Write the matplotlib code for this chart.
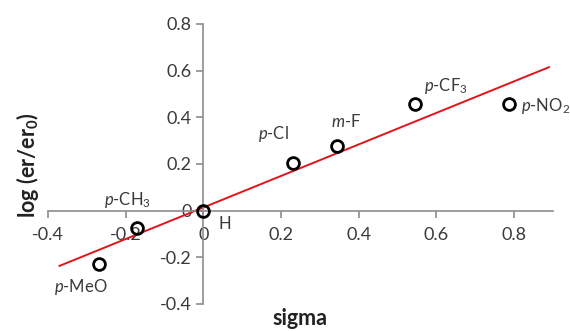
"""
Hammett plot: log(er/er0) vs sigma for substituted aryl groups.
"""

import numpy as np
import matplotlib
matplotlib.use("Agg")
import matplotlib.pyplot as plt

# substituent labels (mathtext for italics / subscripts)
labels = [r"$\it{p}$-MeO", r"$\it{p}$-CH$_3$", "H", r"$\it{p}$-Cl",
          r"$\it{m}$-F", r"$\it{p}$-CF$_3$", r"$\it{p}$-NO$_2$"]
sigma = [-0.268, -0.17, 0.0, 0.232, 0.345, 0.545, 0.787]
log_er = [-0.23, -0.075, 0.0, 0.205, 0.278, 0.455, 0.455]

# label offsets in pixels relative to the point
label_offsets = [(-18, -23), (-10, 28), (22, -13), (-20, 29),
                 (9, 24), (31, 18), (12, -2)]
label_ha = ["center", "center", "center", "center", "center", "center", "left"]

# trendline extent
trend_x = [-0.37, 0.89]

x_ticks = [-0.4, -0.2, 0, 0.2, 0.4, 0.6, 0.8]
y_ticks = [-0.4, -0.2, 0, 0.2, 0.4, 0.6, 0.8]

FONT = "Lato"
plt.rcParams["font.family"] = [FONT, "DejaVu Sans"]
plt.rcParams["mathtext.fontset"] = "custom"
plt.rcParams["mathtext.rm"] = FONT
plt.rcParams["mathtext.it"] = f"{FONT}:italic"
plt.rcParams["mathtext.bf"] = f"{FONT}:bold"

AXIS_GRAY = "#8c8c8c"
TEXT_GRAY = "#3a3a3a"

fig = plt.figure(figsize=(5.7, 3.31), dpi=100)
ax = fig.add_axes([0.084, 0.0816, 0.886, 0.846])

# linear fit
slope, intercept = np.polyfit(sigma, log_er, 1)
tx = np.array(trend_x)
ax.plot(tx, slope * tx + intercept, color="#e0151b", lw=1.4, zorder=2)

ax.plot(sigma, log_er, "o", ms=8.5, mfc="none", mec="black", mew=2.0, zorder=3)

for x, y, lab, off, ha in zip(sigma, log_er, labels, label_offsets, label_ha):
    ax.annotate(lab, (x, y), xytext=off, textcoords="offset pixels",
                ha=ha, va="center", fontsize=12, color=TEXT_GRAY)

ax.set_xlim(-0.4, 0.9)
ax.set_ylim(-0.4, 0.8)
ax.set_xticks(x_ticks)
ax.set_yticks(y_ticks)
ax.set_xticklabels([f"{v:g}" for v in x_ticks])
ax.set_yticklabels([f"{v:g}" for v in y_ticks])

ax.spines["left"].set_position(("data", 0))
ax.spines["bottom"].set_position(("data", 0))
for s in ["top", "right"]:
    ax.spines[s].set_visible(False)
for s in ["left", "bottom"]:
    ax.spines[s].set_color(AXIS_GRAY)
    ax.spines[s].set_linewidth(1.2)

ax.tick_params(axis="both", direction="out", length=5, width=1.2,
               color=AXIS_GRAY, labelsize=13, labelcolor=TEXT_GRAY)
ax.tick_params(axis="x", pad=7)

fig.text(0.049, 0.5, r"log (er/er$_\mathbf{0}$)", rotation=90, ha="center",
         va="center", fontsize=15.5, fontweight="bold", color="#222222")
fig.text(0.527, 0.038, "sigma", ha="center", va="center",
         fontsize=15.5, fontweight="bold", color="#222222")

fig.savefig("out.png", dpi=100)
